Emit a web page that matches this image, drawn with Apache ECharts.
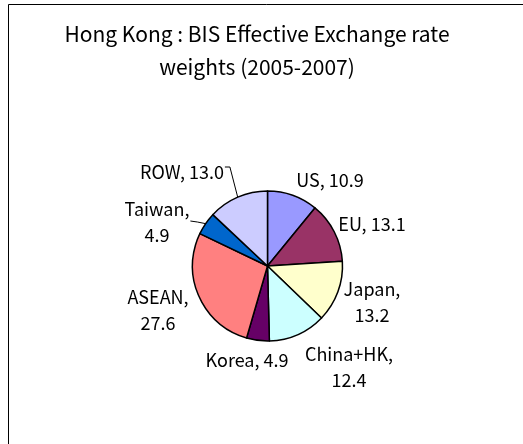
<!DOCTYPE html>
<html>
<head>
<meta charset="utf-8">
<script src="https://cdn.jsdelivr.net/npm/echarts@6/dist/echarts.min.js"></script>
<style>
html,body{margin:0;padding:0;background:#fff;}
#c{width:523px;height:444px;}
</style>
</head>
<body>
<div id="c"></div>
<script>
// ---- data ----
var categories = ['US', 'EU', 'Japan', 'China+HK', 'Korea', 'ASEAN', 'Taiwan', 'ROW'];
var weights = [10.9, 13.1, 13.2, 12.4, 4.9, 27.6, 4.9, 13.0];
var labelBreak = [false, false, true, true, false, true, true, false];
var titleText = 'Hong Kong : BIS Effective Exchange rate\nweights (2005-2007)';

// ---- style / placement ----
var colors = ['#9999FF', '#993366', '#FFFFCC', '#CCFFFF', '#660066', '#FF8080', '#0066CC', '#CCCCFF'];
var leader = [false, false, false, false, false, false, true, true];
var CX = 267.5, CY = 266, R = 75;
// label centre offsets from pie centre (px)
var labelOffset = [[62.5, -86], [104.5, -42], [104.5, 36], [81.5, 101], [-20.5, 94], [-109.5, 44], [-110.5, -44], [-85.5, -94]];

var FONT = '"Noto Sans CJK JP", "Noto Sans", sans-serif';

var pieData = categories.map(function (name, i) {
  return {
    name: name,
    value: weights[i],
    itemStyle: { color: colors[i] },
    labelLine: { show: leader[i] }
  };
});

var chart = echarts.init(document.getElementById('c'), null, { renderer: 'canvas' });
chart.setOption({
  animation: false,
  backgroundColor: '#fff',
  graphic: [{
    type: 'rect',
    shape: { x: 8.5, y: 4.5, width: 700, height: 700 },
    style: { fill: 'none', stroke: '#000', lineWidth: 1 },
    silent: true, z: -10
  }],
  title: {
    text: titleText,
    left: 252,
    top: 13,
    textAlign: 'center',
    textStyle: { fontFamily: FONT, fontSize: 21, fontWeight: 'normal', color: '#000', lineHeight: 33 }
  },
  series: [{
    type: 'pie',
    center: [CX, CY],
    radius: R,
    startAngle: 90,
    clockwise: true,
    avoidLabelOverlap: false,
    itemStyle: { borderColor: '#000', borderWidth: 1.5 },
    emphasis: { disabled: true },
    label: {
      show: true,
      position: 'outside',
      fontFamily: FONT,
      fontSize: 18,
      color: '#000',
      lineHeight: 26,
      align: 'center',
      formatter: function (p) {
        var v = p.value.toFixed(1);
        return labelBreak[p.dataIndex] ? p.name + ',\n' + v : p.name + ', ' + v;
      }
    },
    labelLine: { show: false, length: 10, length2: 10, lineStyle: { color: '#000', width: 1 } },
    labelLayout: function (params) {
      var i = params.dataIndex;
      var lx = CX + labelOffset[i][0];
      var ly = CY + labelOffset[i][1];
      var out = { x: lx, y: ly, align: 'center', verticalAlign: 'middle' };
      if (leader[i] && params.labelLinePoints) {
        var p0 = params.labelLinePoints[0];
        var right = lx + params.labelRect.width / 2;
        if (categories[i] === 'ROW') {
          out.labelLinePoints = [p0, [right + 6, ly - 5], [right + 1, ly - 5]];
        } else {
          out.labelLinePoints = [p0, [right + 8, ly], [right + 1, ly - 1]];
        }
      }
      return out;
    },
    data: pieData
  }]
});
</script>
</body>
</html>
